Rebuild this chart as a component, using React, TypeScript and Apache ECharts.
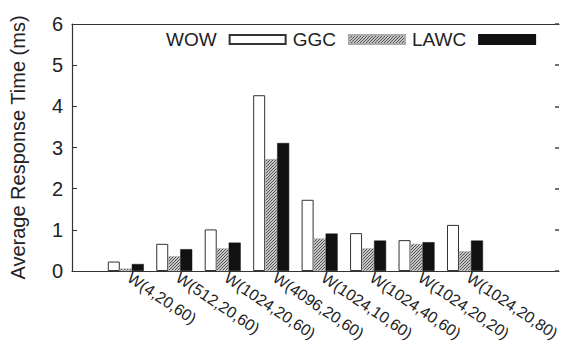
import React, { useEffect, useRef } from "react";
import * as echarts from "echarts";

const categories = [
  "W(4,20,60)",
  "W(512,20,60)",
  "W(1024,20,60)",
  "W(4096,20,60)",
  "W(1024,10,60)",
  "W(1024,40,60)",
  "W(1024,20,20)",
  "W(1024,20,80)",
];
const wowValues = [0.23, 0.66, 1.01, 4.27, 1.73, 0.92, 0.75, 1.12];
const ggcValues = [0.06, 0.36, 0.55, 2.72, 0.79, 0.55, 0.66, 0.48];
const lawcValues = [0.17, 0.53, 0.69, 3.11, 0.91, 0.74, 0.7, 0.74];
const yTicks = [0, 1, 2, 3, 4, 5, 6];

const FONT = "'Liberation Sans', Arial, Helvetica, sans-serif";

function makePattern(): HTMLCanvasElement {
  const c = document.createElement("canvas");
  c.width = 3;
  c.height = 3;
  const ctx = c.getContext("2d")!;
  ctx.fillStyle = "#c8c8c8";
  ctx.fillRect(0, 0, 3, 3);
  ctx.fillStyle = "#505050";
  for (let i = 0; i < 3; i++) {
    ctx.fillRect(i, (3 - i) % 3, 1, 1);
  }
  return c;
}

export default function App() {
  const ref = useRef<HTMLDivElement>(null);
  useEffect(() => {
    if (!ref.current) return;
    const chart = echarts.init(ref.current, undefined, { renderer: "svg" });
    const pattern = makePattern();
    const toPairs = (arr: number[]) => arr.map((v, i) => [i, v]);
    const tickPos = categories.map((_, i) => i + 0.07);
    chart.setOption({
      animation: false,
      backgroundColor: "#ffffff",
      textStyle: { fontFamily: FONT },
      legend: {
        left: 161,
        top: 25,
        align: "right",
        icon: "rect",
        itemWidth: 56,
        itemHeight: 9,
        itemGap: 6,
        textStyle: {
          fontFamily: FONT,
          fontSize: 19,
          color: "#222",
          padding: [0, 8, 0, 0],
        },
        data: ["WOW", "GGC", "LAWC"],
      },
      grid: {
        left: 72,
        top: 24,
        right: 3,
        bottom: 73,
        containLabel: false,
        outerBoundsMode: "none",
      },
      xAxis: [
        {
          type: "value",
          min: -1.11,
          max: 8.94,
          axisLine: { show: true, onZero: false, lineStyle: { color: "#333", width: 1.2 } },
          splitLine: { show: false },
          axisTick: { show: false },
          axisLabel: {
            show: true,
            customValues: tickPos,
            rotate: -34,
            margin: 5,
            fontSize: 16,
            fontFamily: FONT,
            color: "#222",
            hideOverlap: false,
            formatter: (v: number) => categories[Math.round(v)] ?? "",
          },
        },
        {
          type: "value",
          position: "top",
          min: -1.11,
          max: 8.94,
          axisLine: { show: true, onZero: false, lineStyle: { color: "#333", width: 1.2 } },
          splitLine: { show: false },
          axisTick: { show: false },
          axisLabel: { show: false },
        },
      ],
      yAxis: [
        {
          type: "value",
          min: 0,
          max: 6,
          interval: 1,
          name: "Average Response Time (ms)",
          nameLocation: "middle",
          nameGap: 44,
          nameTextStyle: { fontFamily: FONT, fontSize: 20, color: "#222" },
          axisLine: { show: true, onZero: false, lineStyle: { color: "#333", width: 1.2 } },
          axisTick: { show: true, inside: true, length: 5, lineStyle: { color: "#333" } },
          splitLine: { show: false },
          axisLabel: {
            fontSize: 20,
            fontFamily: FONT,
            color: "#222",
            margin: 9,
            formatter: (v: number) => (yTicks.includes(v) ? String(v) : ""),
          },
        },
        {
          type: "value",
          position: "right",
          min: 0,
          max: 6,
          interval: 1,
          axisLine: { show: false, onZero: false },
          axisTick: { show: true, inside: true, length: 4, lineStyle: { color: "#444", width: 1.5 } },
          splitLine: { show: false },
          axisLabel: { show: false },
        },
      ],
      series: [
        {
          name: "WOW",
          type: "bar",
          data: toPairs(wowValues),
          barWidth: 12,
          barGap: "0%",
          itemStyle: { color: "#ffffff", borderColor: "#333", borderWidth: 1 },
        },
        {
          name: "GGC",
          type: "bar",
          data: toPairs(ggcValues),
          barWidth: 12,
          barGap: "0%",
          itemStyle: {
            color: { image: pattern, repeat: "repeat" },
            borderColor: "#aaa",
            borderWidth: 0.5,
          },
        },
        {
          name: "LAWC",
          type: "bar",
          data: toPairs(lawcValues),
          barWidth: 12,
          barGap: "0%",
          itemStyle: { color: "#111111", borderColor: "#111", borderWidth: 0.5 },
        },
      ],
    });
    return () => chart.dispose();
  }, []);
  return (
    <div
      ref={ref}
      style={{ position: "fixed", left: 0, top: 0, width: 562, height: 344 }}
    />
  );
}
